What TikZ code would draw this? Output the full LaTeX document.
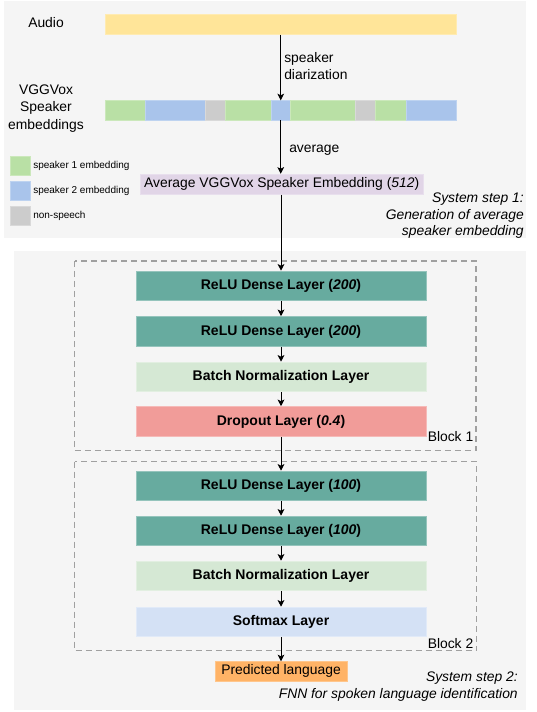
\documentclass[tikz,border=0pt]{standalone}
\usepackage{fontspec}
\setmainfont{Liberation Sans}
\usetikzlibrary{arrows.meta}

\definecolor{panelgray}{HTML}{F5F5F5}
\definecolor{audioyellow}{HTML}{FFE599}
\definecolor{spkone}{HTML}{B9E0A5}
\definecolor{spktwo}{HTML}{A9C4EB}
\definecolor{nonspeech}{HTML}{CCCCCC}
\definecolor{avgpurple}{HTML}{E1D5E7}
\definecolor{densegreen}{HTML}{67AB9F}
\definecolor{normgreen}{HTML}{D5E8D4}
\definecolor{dropred}{HTML}{F19C99}
\definecolor{softblue}{HTML}{D4E1F5}
\definecolor{predorange}{HTML}{FFB366}
\definecolor{dashgray}{HTML}{A0A0A0}

\begin{document}
\begin{tikzpicture}[x=0.75pt,y=0.75pt,yscale=-1,xscale=1,
  flow/.style={draw=black, line width=0.75pt, -{Stealth[length=5pt,width=5pt,inset=1.2pt]}},
  layer/.style={fill=#1, draw=#1!70!white, line width=0.6pt, minimum width=217.5pt, minimum height=22.3pt, inner sep=0pt, font=\fontsize{10.5}{12.5}\selectfont\bfseries},
  seg/.style={fill=#1, draw=#1!75!white, line width=0.4pt, minimum height=14.5pt, inner sep=0pt, anchor=west},
  legendbox/.style={fill=#1, draw=#1!75!white, line width=0.4pt, minimum width=15pt, minimum height=14pt, inner sep=0pt},
  lbl/.style={inner sep=0.75pt, font=\fontsize{10.4}{12.5}\selectfont},
  smalltext/.style={inner sep=0.75pt, anchor=west, font=\fontsize{7.5}{9}\selectfont},
  blockframe/.style={draw=dashgray, line width=1pt, dash pattern=on 4.5pt off 3pt}
]
\fill[white] (0,0) rectangle (536,712);
\fill[panelgray] (4,1) rectangle (526,238);
\fill[panelgray] (14,251) rectangle (526,710);

% step 1
\node [seg=audioyellow, minimum width=263.25pt, minimum height=15pt] (audio) at (104.5,24.3) {};
\foreach \a/\b/\c [count=\i] in {104.5/144.9/spkone, 144.9/204.8/spktwo, 204.8/224.7/nonspeech, 224.7/270.5/spkone, 270.5/290.4/spktwo, 290.4/355.1/spkone, 355.1/375/nonspeech, 375/405.8/spkone, 405.8/455.5/spktwo}
  \node [seg=\c, minimum width={(\b-\a)*0.75pt}] (s\i) at (\a,110.3) {};
\node [fill=avgpurple, draw=avgpurple!75!white, line width=0.4pt, minimum width=212pt, minimum height=15.2pt, inner sep=0pt, font=\fontsize{10.4}{12}\selectfont] (avg) at (281.7,184.2) {Average VGGVox Speaker Embedding (\textit{512})};

\node [legendbox=spkone] (key1) at (20,166) {};
\node [legendbox=spktwo] (key2) at (20,190.5) {};
\node [legendbox=nonspeech] (key3) at (20,215.5) {};
\draw (32,166) node [smalltext] (key1lbl) {speaker 1 embedding};
\draw (32,190.5) node [smalltext] (key2lbl) {speaker 2 embedding};
\draw (32,215.5) node [smalltext] (key3lbl) {non-speech};

\draw (46,22.7) node [lbl] (audiolbl) {Audio};
\draw (46,108.5) node [lbl, align=center, font=\fontsize{10.4}{13.1}\selectfont] (embedlbl) {VGGVox\\Speaker\\embeddings};
\draw (283,66) node [lbl, anchor=west, align=left, font=\fontsize{10.4}{12.2}\selectfont] (diarlbl) {speaker\\diarization};
\draw (288,150) node [lbl, anchor=west] (avglbl) {average};
\draw (525,216) node [lbl, anchor=east, align=right, font=\fontsize{10.4}{12.4}\selectfont\itshape] (step1lbl) {System step 1:\\Generation of average\\speaker embedding};

% step 2
\draw[blockframe] (74.5,261) rectangle (476,450.7);
\draw[blockframe] (74.5,461.7) rectangle (476.5,650.7);

\node [layer=densegreen] (r1) at (281,286) {ReLU Dense Layer (\textit{200})};
\node [layer=densegreen] (r2) at (281,331.5) {ReLU Dense Layer (\textit{200})};
\node [layer=normgreen] (bn1) at (281,377) {Batch Normalization Layer};
\node [layer=dropred] (drop) at (281,421.5) {Dropout Layer (\textit{0.4})};
\node [layer=densegreen] (r3) at (281,486) {ReLU Dense Layer (\textit{100})};
\node [layer=densegreen] (r4) at (281,531) {ReLU Dense Layer (\textit{100})};
\node [layer=normgreen] (bn2) at (281,576) {Batch Normalization Layer};
\node [layer=softblue] (soft) at (281,622) {Softmax Layer};
\node [fill=predorange, draw=predorange!75!white, line width=0.4pt, minimum width=99pt, minimum height=14.5pt, inner sep=0pt, font=\fontsize{10.4}{12}\selectfont] (pred) at (281,671.3) {Predicted language};

\draw (474.5,441.7) node [lbl, anchor=base east] (blk1lbl) {Block 1};
\draw (474.5,648) node [lbl, anchor=base east] (blk2lbl) {Block 2};
\draw (519,686.7) node [lbl, anchor=east, align=right, font=\fontsize{10.4}{12.5}\selectfont\itshape] (step2lbl) {System step 2:\\FNN for spoken language identification};

\draw[flow] (audio.south -| s5.north) -- (s5.north);
\draw[flow] (s5.south) -- (s5.south |- avg.north);
\draw[flow] (avg.south -| r1.north) -- (r1.north);
\foreach \p/\q in {r1/r2, r2/bn1, bn1/drop, drop/r3, r3/r4, r4/bn2, bn2/soft, soft/pred}
  \draw[flow] (\p.south) -- (\q.north);
\end{tikzpicture}
\end{document}
